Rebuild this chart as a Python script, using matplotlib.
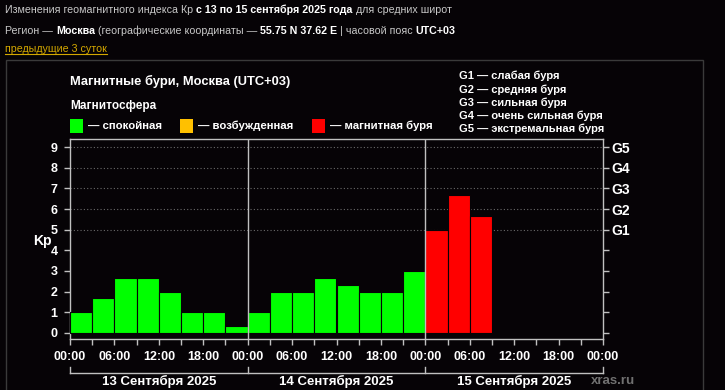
"""
Kp index chart, Moscow, 13-15 Sept 2025 (xras.ru style)
"""
import numpy as np
import matplotlib.pyplot as plt
from matplotlib.patches import Rectangle
from matplotlib.transforms import blended_transform_factory

plt.rcParams['font.family'] = ['Liberation Sans', 'DejaVu Sans']

# 3-hour Kp values, one list per day
kp_day1 = [1, 1.67, 2.67, 2.67, 2, 1, 1, 0.33]
kp_day2 = [1, 2, 2, 2.67, 2.33, 2, 2, 3]
kp_day3 = [5, 6.67, 5.67]
day_labels = ['13 Сентября 2025', '14 Сентября 2025', '15 Сентября 2025']
time_labels = ['00:00', '06:00', '12:00', '18:00']
g_labels = ['G1', 'G2', 'G3', 'G4', 'G5']
g_texts = ['G1 — слабая буря', 'G2 — средняя буря', 'G3 — сильная буря',
           'G4 — очень сильная буря', 'G5 — экстремальная буря']
state_labels = ['— спокойная', '— возбужденная', '— магнитная буря']

GREEN, ORANGE, RED = '#00ff00', '#ffc000', '#ff0000'
BG = '#060306'
W, H = 725, 390

kp = kp_day1 + kp_day2 + kp_day3
hours = np.arange(len(kp)) * 3
colors = [GREEN if v < 4 else (ORANGE if v < 5 else RED) for v in kp]

fig = plt.figure(figsize=(W / 100, H / 100), dpi=100, facecolor=BG)


def px(x, y):
    return x / W, 1 - y / H


# panel frame
fig.patches.append(Rectangle(px(6, 400), 697 / W, 340 / H, transform=fig.transFigure,
                             fill=False, edgecolor='#3a3a3a', lw=1))

renderer = fig.canvas.get_renderer()


def run_text(x, y, parts, size=7.7):
    # draw text pieces one after another (mixed bold / normal)
    a = fig.text(0, 0, 'a a', fontsize=size)
    b = fig.text(0, 0, 'aa', fontsize=size)
    space = a.get_window_extent(renderer).width - b.get_window_extent(renderer).width
    a.remove()
    b.remove()
    for s, bold, col in parts:
        t = fig.text(*px(x, y), s, color=col, fontsize=size,
                     fontweight='bold' if bold else 'normal', va='center')
        x += t.get_window_extent(renderer).width + space
    return x


grey = '#c8c8c8'
run_text(5, 10, [('Изменения геомагнитного индекса Кр', False, grey),
                 ('с 13 по 15 сентября 2025 года', True, 'white'),
                 ('для средних широт', False, grey)])
run_text(5, 31, [('Регион —', False, grey), ('Москва', True, 'white'),
                 ('(географические координаты —', False, grey),
                 ('55.75 N 37.62 E', True, 'white'), ('| часовой пояс', False, grey),
                 ('UTC+03', True, 'white')])
link = fig.text(*px(5, 49), 'предыдущие 3 суток', color='#d4a800', fontsize=7.7, va='center')
lb = link.get_window_extent(renderer)
fig.add_artist(plt.Line2D([lb.x0 / W, lb.x1 / W], [1 - 54 / H] * 2, color='#d4a800', lw=0.8))

# titles and legend
fig.text(*px(70, 81), 'Магнитные бури, Москва (UTC+03)', color='white', fontsize=9.3,
         fontweight='bold', va='center')
fig.text(*px(70, 106), 'Магнитосфера', color='white', fontsize=8.5, fontweight='bold', va='center')
for sx, col, lab in zip([70, 180, 312], [GREEN, ORANGE, RED], state_labels):
    fig.patches.append(Rectangle(px(sx, 133), 13 / W, 14 / H, transform=fig.transFigure,
                                 facecolor=col, edgecolor='none'))
    fig.text(*px(sx + 18, 126), lab, color='white', fontsize=8.2, fontweight='bold', va='center')
for i, g in enumerate(g_texts):
    fig.text(*px(459, 76 + i * 13.3), g, color='white', fontsize=8, fontweight='bold', va='center')

# main axes
ax = fig.add_axes([70 / W, (H - 339) / H, 533 / W, 200 / H], facecolor=BG)
ax.bar(hours, kp, width=3, align='edge', color=colors, edgecolor=BG, lw=0.8, zorder=3)
ax.set_xlim(0, 72)
ax.set_ylim(-0.3, 9.4)
for d in (24, 48):
    ax.axvline(d, color='#c0c0c0', lw=1, zorder=4)
for g in range(5, 10):
    ax.axhline(g, color='#6a6a6a', lw=0.8, ls=(0, (1, 2)), zorder=1)

for s in ax.spines.values():
    s.set_color('#c0c0c0')
    s.set_linewidth(1)

ax.set_yticks(range(10))
ax.set_yticklabels([str(i) for i in range(10)])
ax.set_xticks(np.arange(0, 73, 6))
ax.set_xticklabels(time_labels * 3 + ['00:00'])
ax.set_xticks(np.arange(3, 72, 6), minor=True)
ax.tick_params(colors='#c0c0c0', labelcolor='white', labelsize=9, length=4, width=1, pad=5)
ax.tick_params(which='minor', colors='#c0c0c0', length=4, width=1)
for lab in ax.get_xticklabels() + ax.get_yticklabels():
    lab.set_fontweight('bold')
fig.text(*px(42, 241), 'Kp', color='white', fontsize=10, fontweight='bold',
         ha='center', va='center')

ax2 = ax.twinx()
ax2.set_ylim(ax.get_ylim())
ax2.set_yticks(range(10))
ax2.set_yticklabels([''] * 5 + g_labels)
ax2.tick_params(colors='#c0c0c0', labelcolor='white', labelsize=10, length=4, width=1, pad=2)
for lab in ax2.get_yticklabels():
    lab.set_fontweight('bold')
for s in ax2.spines.values():
    s.set_visible(False)

# day brackets under the time axis
tr = blended_transform_factory(ax.transData, ax.transAxes)
ax.plot([0, 72], [-0.17, -0.17], color='#c0c0c0', lw=1, transform=tr, clip_on=False)
for d in (0, 24, 48, 72):
    ax.plot([d, d], [-0.17, -0.14], color='#c0c0c0', lw=1, transform=tr, clip_on=False)
for i, lab in enumerate(day_labels):
    ax.text(12 + 24 * i, -0.21, lab, transform=tr, color='white', fontsize=9.5,
            fontweight='bold', ha='center', va='center')
fig.text(*px(591, 381), 'xras.ru', color='#707070', fontsize=9.5, fontweight='bold', va='center')

fig.savefig('out.png', dpi=100, facecolor=BG)
